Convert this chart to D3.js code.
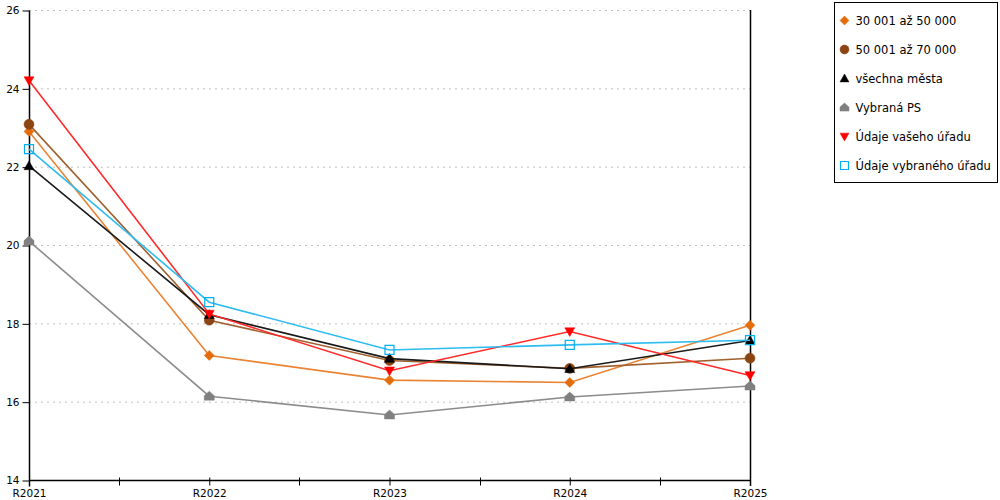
<!DOCTYPE html>
<html>
<head>
<meta charset="utf-8">
<script src="https://cdn.jsdelivr.net/npm/d3@7"></script>
<style>
  body { margin: 0; background: #fff; }
  text { font-family: "DejaVu Sans", Verdana, sans-serif; fill: #000; }
</style>
</head>
<body>
<div id="chart"></div>
<script>
// chart data
const years = ["R2021", "R2022", "R2023", "R2024", "R2025"];
const yTicks = [14, 16, 18, 20, 22, 24, 26];

const s30to50 = [22.9, 17.18, 16.55, 16.49, 17.95];
const s50to70 = [23.08, 18.08, 17.05, 16.85, 17.11];
const allCities = [22.02, 18.22, 17.1, 16.84, 17.56];
const chosenPS = [20.1, 16.14, 15.66, 16.12, 16.4];
const yourOffice = [24.2, 18.24, 16.79, 17.79, 16.67];
const chosenOffice = [22.45, 18.54, 17.32, 17.45, 17.57];

const seriesNames = ["30 001 až 50 000", "50 001 až 70 000", "všechna města", "Vybraná PS", "Údaje vašeho úřadu", "Údaje vybraného úřadu"];

let width = 1000;
let height = 500;
let margin = { top: 10, right: 250, bottom: 20, left: 29 };

let series = [
    { name: seriesNames[0], values: s30to50, color: "#E46C0A", line: "#EA8434", symbol: "diamond" },
    { name: seriesNames[1], values: s50to70, color: "#8B4513", line: "#A0602E", symbol: "circle" },
    { name: seriesNames[2], values: allCities, color: "#000000", line: "#1a1a1a", symbol: "triangle" },
    { name: seriesNames[3], values: chosenPS, color: "#808080", line: "#8c8c8c", symbol: "house" },
    { name: seriesNames[4], values: yourOffice, color: "#FF0000", line: "#FF2a2a", symbol: "triangleDown" },
    { name: seriesNames[5], values: chosenOffice, color: "#00B0F0", line: "#2cbcf2", symbol: "square" }
];

let svg = d3.select("#chart")
    .append("svg")
    .attr("width", width)
    .attr("height", height);

let xScale = d3.scalePoint()
    .domain(years)
    .range([margin.left, width - margin.right]);

let yScale = d3.scaleLinear()
    .domain([14, 26])
    .range([height - margin.bottom, margin.top]);

let x0 = xScale(years[0]);
let x1 = xScale(years[years.length - 1]);
let step = xScale.step();

// dashed grid lines
svg.append("g")
    .selectAll("line")
    .data(yTicks.filter(d => d > 14))
    .join("line")
    .attr("x1", x0)
    .attr("x2", x1)
    .attr("y1", d => yScale(d) + 0.5)
    .attr("y2", d => yScale(d) + 0.5)
    .attr("stroke", "#c0c0c0")
    .attr("stroke-dasharray", "2,4");

// y axis
let yAxis = d3.axisLeft(yScale).tickValues(yTicks).tickSize(7).tickPadding(3);
let yg = svg.append("g")
    .attr("transform", `translate(${x0 + 0.5},0.5)`)
    .call(yAxis);
yg.select(".domain").remove();
yg.selectAll(".tick line").attr("stroke", "#000");
yg.selectAll("text").style("font-size", "10.5px")
    .style("font-family", "'DejaVu Sans', Verdana, sans-serif");

yg.append("line")
    .attr("x1", 0).attr("x2", 0)
    .attr("y1", yScale(26)).attr("y2", yScale(14) + 6)
    .attr("stroke", "#000").attr("stroke-width", 1.5);

// right border line
svg.append("line")
    .attr("x1", x1 + 0.5).attr("x2", x1 + 0.5)
    .attr("y1", yScale(26)).attr("y2", yScale(14) + 6)
    .attr("stroke", "#000").attr("stroke-width", 1.5);

// x axis
let xAxis = d3.axisBottom(xScale).tickSize(5).tickPadding(4);
let xg = svg.append("g")
    .attr("transform", `translate(0,${yScale(14) + 0.5})`)
    .call(xAxis);
xg.select(".domain").remove();
xg.selectAll(".tick line").attr("y1", -3).attr("stroke", "#000");
xg.selectAll("text").style("font-size", "10.5px")
    .style("font-family", "'DejaVu Sans', Verdana, sans-serif");
xg.append("line")
    .attr("x1", x0).attr("x2", x1)
    .attr("stroke", "#000").attr("stroke-width", 1.5);

// minor ticks between categories
xg.selectAll(".minor")
    .data(years.slice(1))
    .join("line")
    .attr("class", "minor")
    .attr("x1", d => Math.round(xScale(d) - step / 2) + 0.5)
    .attr("x2", d => Math.round(xScale(d) - step / 2) + 0.5)
    .attr("y1", -3)
    .attr("y2", 5)
    .attr("stroke", "#000");

// marker shapes
function markerPath(symbol, s) {
    switch (symbol) {
        case "diamond":
            return `M0,${-s}L${s},0L0,${s}L${-s},0Z`;
        case "circle":
            return d3.symbol(d3.symbolCircle, Math.PI * s * s)();
        case "triangle":
            return `M0,${-s}L${s},${s * 0.75}L${-s},${s * 0.75}Z`;
        case "triangleDown":
            return `M0,${s}L${s},${-s * 0.75}L${-s},${-s * 0.75}Z`;
        case "house":
            return `M0,${-s}L${s},${-s * 0.1}L${s},${s * 0.8}L${-s},${s * 0.8}L${-s},${-s * 0.1}Z`;
        case "square":
            return `M${-s},${-s}L${s},${-s}L${s},${s}L${-s},${s}Z`;
    }
}

function drawMarker(g, d, size) {
    let open = d.symbol === "square";
    g.append("path")
        .attr("d", markerPath(d.symbol, open ? size - 0.5 : size))
        .attr("fill", open ? "none" : d.color)
        .attr("stroke", d.color)
        .attr("stroke-width", open ? 1.2 : 0.5);
}

let line = d3.line()
    .x((v, i) => xScale(years[i]))
    .y(v => yScale(v));

series.forEach(d => {
    let g = svg.append("g");
    g.append("path")
        .attr("d", line(d.values))
        .attr("fill", "none")
        .attr("stroke", d.line)
        .attr("stroke-width", 1.6);
    d.values.forEach((v, i) => {
        let m = g.append("g")
            .attr("transform", `translate(${xScale(years[i])},${yScale(v)})`);
        drawMarker(m, d, 5);
    });
});

// legend
let legend = svg.append("g").attr("transform", "translate(834.5,2.5)");
legend.append("rect")
    .attr("width", 163)
    .attr("height", 180)
    .attr("fill", "#fff")
    .attr("stroke", "#000");

series.forEach((d, i) => {
    let row = legend.append("g").attr("transform", `translate(10,${18 + i * 29})`);
    drawMarker(row, d, 4.5);
    row.append("text")
        .attr("x", 11)
        .attr("y", 4)
        .style("font-size", "11.5px")
        .text(d.name);
});
</script>
</body>
</html>
